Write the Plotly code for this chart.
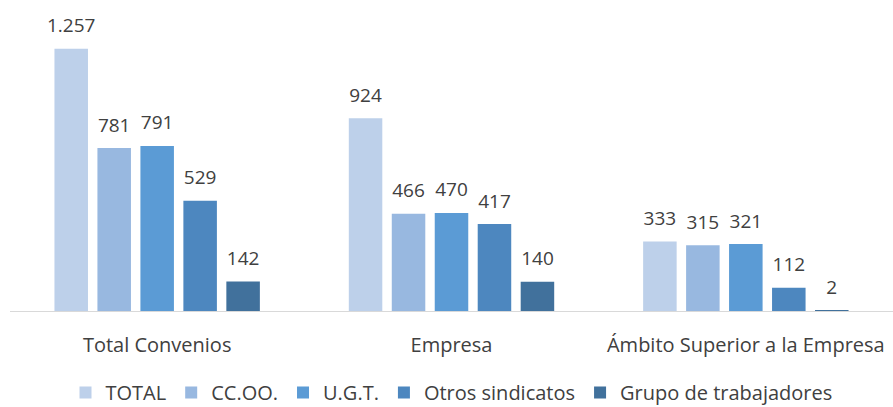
import plotly.graph_objects as go

categories = ["Total Convenios", "Empresa", "Ámbito Superior a la Empresa"]
series_names = ["TOTAL", "CC.OO.", "U.G.T.", "Otros sindicatos", "Grupo de trabajadores"]
total = [1257, 924, 333]
ccoo = [781, 466, 315]
ugt = [791, 470, 321]
otros = [529, 417, 112]
grupo = [142, 140, 2]
colors = ["#BDD0EA", "#98B8E0", "#5B9BD5", "#4D87BF", "#41719C"]

FONT = "Open Sans, Liberation Sans, sans-serif"
LABEL_PAD = 36  # gap (in value units) between bar top and its label


def fmt(v):
    return f"{v:,}".replace(",", ".")


fig = go.Figure()
for i, (name, vals, col) in enumerate(zip(series_names, [total, ccoo, ugt, otros, grupo], colors)):
    fig.add_trace(go.Bar(
        name=name, x=categories, y=vals, marker_color=col,
        marker_line_width=0, offsetgroup=str(i), hoverinfo="x+y+name",
    ))
    fig.add_trace(go.Bar(
        x=categories, y=[LABEL_PAD] * len(vals), base=vals, offsetgroup=str(i),
        marker_color="rgba(0,0,0,0)", marker_line_width=0, showlegend=False,
        text=[fmt(v) for v in vals], textposition="outside", constraintext="none",
        textfont=dict(family=FONT, size=19, color="#404040"),
        cliponaxis=False, hoverinfo="skip",
    ))

fig.update_layout(
    width=893, height=407,
    margin=dict(l=10, r=0, t=20, b=96, autoexpand=False),
    paper_bgcolor="white", plot_bgcolor="white",
    barmode="group", bargap=0.27, bargroupgap=0.22,
    font=dict(family=FONT, size=20, color="#404040"),
    showlegend=True,
    legend=dict(orientation="h", x=0.5, xanchor="center", y=-0.28, yanchor="middle",
                font=dict(family=FONT, size=20, color="#404040"), itemwidth=30,
                traceorder="normal", tracegroupgap=0),
    xaxis=dict(showline=True, linecolor="#D9D9D9", linewidth=1, showgrid=False, automargin=False,
               ticks="", ticklabelstandoff=16, tickfont=dict(family=FONT, size=20, color="#404040")),
    yaxis=dict(visible=False, range=[0, 1395], showgrid=False, automargin=False),
)
fig.write_html("out.html", config={"displayModeBar": False},
               post_script="document.body.style.margin='0';document.body.style.overflow='hidden';")
